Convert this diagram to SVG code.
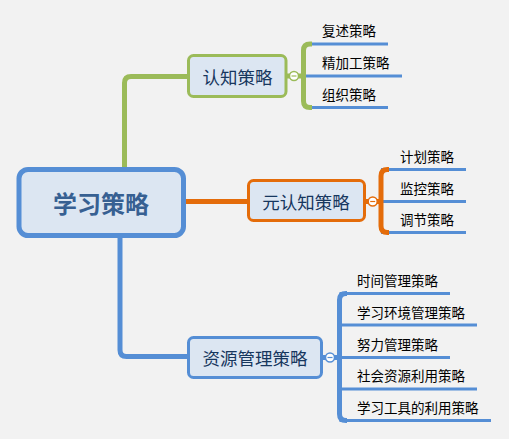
<svg xmlns="http://www.w3.org/2000/svg" width="509" height="439" viewBox="0 0 509 439">
<style>
text{font-family:"Noto Sans CJK SC","Microsoft YaHei",sans-serif}
.c{font-size:13.5px;fill:#000}
.n{font-size:17.5px;fill:#17375e;text-anchor:middle}
.ul{stroke:#558ed5;stroke-width:3;fill:none}
.g{stroke:#9bbb59;fill:none}
.o{stroke:#e46c0a;fill:none}
.b{stroke:#558ed5;fill:none}
.box{fill:#dce6f2;stroke-width:3}
.cc{fill:#fff;stroke-width:1.5}
</style>
<rect width="509" height="439" fill="#f2f2f2"/>
<g id="connectors">
<path class="g" stroke-width="5" d="M124.5,172 V83 Q124.5,76.5 131,76.5 H190"/>
<path class="o" stroke-width="5" d="M183,201.5 H250"/>
<path class="b" stroke-width="5" d="M120,236 V350 Q120,356.5 126.5,356.5 H190"/>
<g class="ul">
<path d="M306,44 H388 M306,76 H402 M306,107.5 H388"/>
<path d="M381,169.5 H466 M381,201.5 H466 M381,232.5 H466"/>
<path d="M339.5,293.5 H450 M339.5,325 H477 M339.5,357.5 H450 M339.5,389 H477 M339.5,420.5 H491"/>
</g>
<path class="g" stroke-width="5" d="M312,44 H310 Q303.5,44 303.5,50.5 V101 Q303.5,107.5 310,107.5 H312 M286,76 H303.5"/>
<path class="o" stroke-width="5" d="M389,169.5 H387.5 Q381,169.5 381,176 V226 Q381,232.5 387.5,232.5 H389 M365,201.5 H381"/>
<path class="b" stroke-width="5" d="M347,293.5 H346 Q339.5,293.5 339.5,300 V414 Q339.5,420.5 346,420.5 H347 M321,357.5 H339.5"/>
<circle class="cc g" cx="294" cy="76" r="4.5"/>
<path d="M291.5,76 H296.5" stroke="#9bbb59" stroke-width="1.2"/>
<circle class="cc o" cx="372.7" cy="201.5" r="4.5"/>
<path d="M370.2,201.5 H375.2" stroke="#e46c0a" stroke-width="1.2"/>
<circle class="cc b" cx="330" cy="357.5" r="4.5"/>
<path d="M327.5,357.5 H332.5" stroke="#558ed5" stroke-width="1.2"/>
</g>
<g id="root">
<rect x="19" y="169.5" width="164.5" height="66" rx="9" fill="#dce6f2" stroke="#558ed5" stroke-width="5"/>
<text x="101" y="213" style="font-size:24px;font-weight:bold;fill:#376092" text-anchor="middle">学习策略</text>
</g>
<g id="n-renzhi">
<rect class="box" x="188.5" y="55.5" width="97.5" height="41" rx="5" stroke="#9bbb59"/>
<text class="n" x="237.5" y="84">认知策略</text>
</g>
<g id="n-yuanrenzhi">
<rect class="box" x="248.5" y="180.5" width="116" height="40" rx="5" stroke="#e46c0a"/>
<text class="n" x="306" y="208.5">元认知策略</text>
</g>
<g id="n-ziyuan">
<rect class="box" x="188.5" y="337.5" width="133" height="40" rx="5" stroke="#558ed5"/>
<text class="n" x="255" y="364.5">资源管理策略</text>
</g>
<g id="c-fushu"><text class="c" x="322" y="36">复述策略</text></g>
<g id="c-jingjiagong"><text class="c" x="322" y="68">精加工策略</text></g>
<g id="c-zuzhi"><text class="c" x="322" y="100">组织策略</text></g>
<g id="c-jihua"><text class="c" x="400" y="161.5">计划策略</text></g>
<g id="c-jiankong"><text class="c" x="400" y="193.5">监控策略</text></g>
<g id="c-tiaojie"><text class="c" x="400" y="224.5">调节策略</text></g>
<g id="c-shijian"><text class="c" x="357" y="286">时间管理策略</text></g>
<g id="c-huanjing"><text class="c" x="357" y="318">学习环境管理策略</text></g>
<g id="c-nuli"><text class="c" x="357" y="349.5">努力管理策略</text></g>
<g id="c-shehui"><text class="c" x="357" y="381">社会资源利用策略</text></g>
<g id="c-gongju"><text class="c" x="357" y="413">学习工具的利用策略</text></g>
</svg>
